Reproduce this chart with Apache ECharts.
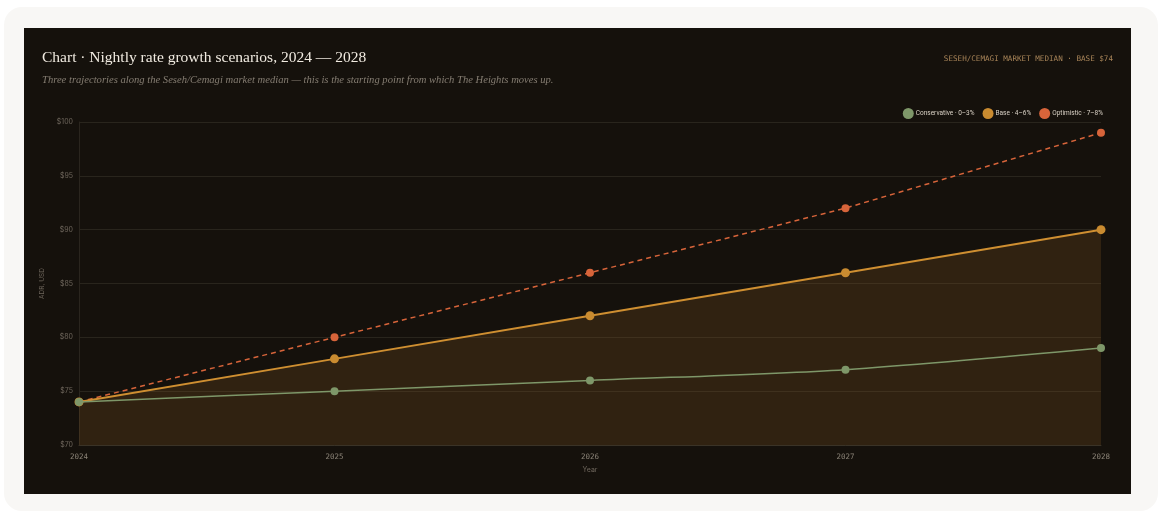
<!DOCTYPE html>
<html>
<head>
<meta charset="utf-8">
<script src="https://cdn.jsdelivr.net/npm/echarts@6/dist/echarts.min.js"></script>
<style>
html,body{margin:0;padding:0;background:#ffffff;width:1161px;height:513px;overflow:hidden;}
#outer{position:absolute;left:4px;top:7px;width:1154px;height:504px;background:#f8f7f5;border-radius:18px;}
#chart{position:absolute;left:24px;top:28px;width:1107px;height:466px;background:#15110c;}
</style>
</head>
<body>
<div id="outer"></div>
<div id="chart"></div>
<script>
const years = ['2024', '2025', '2026', '2027', '2028'];
const conservative = [74, 75, 76, 77, 79];
const base = [74, 78, 82, 86, 90];
const optimistic = [74, 80, 86, 92, 99];
const seriesNames = ['Conservative · 0–3%', 'Base · 4–6%', 'Optimistic · 7–8%'];
const titleText = 'Chart · Nightly rate growth scenarios, 2024 — 2028';
const subtitleText = 'Three trajectories along the Seseh/Cemagi market median — this is the starting point from which The Heights moves up.';
const tagText = 'SESEH/CEMAGI MARKET MEDIAN · BASE $74';

const chart = echarts.init(document.getElementById('chart'), null, {renderer: 'canvas'});
const sans = 'Inter, Roboto, sans-serif';
const mono = '"DejaVu Sans Mono", monospace';
chart.setOption({
  backgroundColor: '#15110c',
  animation: false,
  title: [
    {text: titleText, left: 18, top: 22, padding: 0,
     textStyle: {fontFamily: '"Liberation Serif", "DejaVu Serif", serif', fontSize: 15.5, fontWeight: 'normal', color: '#f1ebe1'}},
    {text: subtitleText, left: 18, top: 47, padding: 0,
     textStyle: {fontFamily: '"Liberation Serif", "DejaVu Serif", serif', fontSize: 10.6, fontStyle: 'italic', fontWeight: 'normal', color: '#857d72'}},
    {text: tagText, right: 18, top: 27, padding: 0,
     textStyle: {fontFamily: mono, fontSize: 7.6, fontWeight: 'normal', color: '#a98559'}}
  ],
  legend: {
    right: 23, top: 75,
    icon: 'circle', itemWidth: 11, itemHeight: 11, itemGap: 8,
    textStyle: {fontFamily: 'Roboto, sans-serif', fontSize: 6.5, color: '#d9d1c5', padding: [0, 0, 0, -3]},
    data: seriesNames
  },
  grid: {left: 55, right: 30, top: 94, bottom: 49},
  xAxis: {
    type: 'category', data: years, boundaryGap: false,
    name: 'Year', nameLocation: 'middle', nameGap: 21,
    nameTextStyle: {fontFamily: sans, fontSize: 7, color: '#6e665c'},
    axisLine: {lineStyle: {color: '#3a3327'}},
    axisTick: {show: false},
    axisLabel: {fontFamily: mono, fontSize: 7.5, color: '#8a8276', margin: 8},
    splitLine: {show: false}
  },
  yAxis: {
    type: 'value', min: 70, max: 100, interval: 5,
    name: 'ADR, USD', nameLocation: 'middle', nameGap: 26, nameRotate: 90,
    nameTextStyle: {fontFamily: sans, fontSize: 6.5, color: '#6e665c'},
    axisLine: {show: true, lineStyle: {color: '#2a251e'}},
    axisTick: {show: false},
    axisLabel: {fontFamily: sans, fontSize: 7, color: '#6e665c', margin: 6, formatter: v => '$' + v},
    splitLine: {lineStyle: {color: '#29251d', width: 1}}
  },
  series: [
    {
      name: seriesNames[0], type: 'line', data: conservative, smooth: 0.3,
      symbol: 'circle', symbolSize: 8, z: 4,
      lineStyle: {color: '#7e9769', width: 1.5},
      itemStyle: {color: '#7e9769'}
    },
    {
      name: seriesNames[1], type: 'line', data: base,
      symbol: 'circle', symbolSize: 9, z: 3,
      lineStyle: {color: '#cf8f31', width: 2},
      itemStyle: {color: '#c98b30'},
      areaStyle: {color: 'rgba(125, 82, 35, 0.38)'}
    },
    {
      name: seriesNames[2], type: 'line', data: optimistic,
      symbol: 'circle', symbolSize: 8, z: 2,
      lineStyle: {color: '#d7643a', width: 1.5, type: [5, 4]},
      itemStyle: {color: '#d7643a'}
    }
  ]
});
</script>
</body>
</html>
